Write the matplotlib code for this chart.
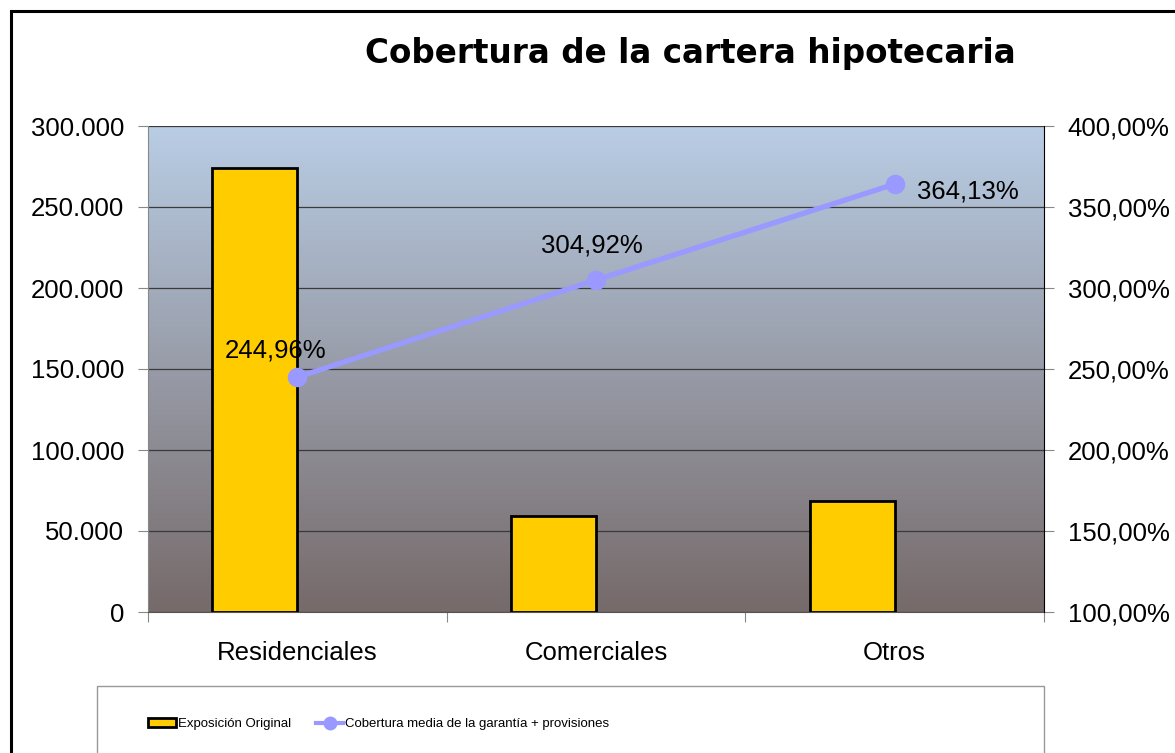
import numpy as np
import matplotlib
matplotlib.use("Agg")
import matplotlib.pyplot as plt
from matplotlib.patches import Rectangle
from matplotlib.lines import Line2D
from matplotlib.ticker import FuncFormatter, FixedLocator

# data
categorias = ["Residenciales", "Comerciales", "Otros"]
exposicion = [274000, 59500, 68300]
cobertura = [2.4496, 3.0492, 3.6413]
etiquetas = ["244,96%", "304,92%", "364,13%"]

fig = plt.figure(figsize=(11.75, 7.53), dpi=100)
fig.patch.set_facecolor("white")

# outer frame of the chart (runs off the right and bottom edge)
fig.patches.append(Rectangle((11 / 1175, -0.05), 1.2, 1 - 11 / 753 + 0.05,
                             transform=fig.transFigure, fill=False,
                             edgecolor="black", lw=2.2))

ax = fig.add_axes([148 / 1175, 1 - 612 / 753, (1044 - 148) / 1175, (612 - 126) / 753])

# gradient background
top = np.array([185, 205, 229]) / 255
bot = np.array([118, 106, 106]) / 255
t = np.linspace(0, 1, 256)[:, None]
grad = (top * (1 - t) + bot * t)[:, None, :]
ax.imshow(grad, extent=[0, 1, 0, 1], transform=ax.transAxes, aspect="auto", zorder=0)

x = np.arange(len(categorias))
w = 0.285
ax.bar(x - w / 2, exposicion, width=w, color="#FFCC00", edgecolor="black", lw=2, zorder=3)

ax.set_xlim(-0.5, 2.5)
ax.set_ylim(0, 300000)
ax.set_yticks(np.arange(0, 300001, 50000))
ax.yaxis.set_major_formatter(FuncFormatter(lambda v, p: f"{int(v):,}".replace(",", ".")))
ax.grid(axis="y", color="#3a3a3a", lw=0.9, zorder=1)
ax.set_axisbelow(True)

ax.xaxis.set_major_locator(FixedLocator([-0.5, 0.5, 1.5, 2.5]))
ax.xaxis.set_minor_locator(FixedLocator(x))
ax.set_xticklabels([], minor=False)
ax.set_xticklabels(categorias, minor=True)
ax.tick_params(axis="x", which="major", length=7, color="#888888", direction="out")
ax.tick_params(axis="x", which="minor", length=0, pad=21, labelsize=18.5)
ax.tick_params(axis="y", length=7, color="#888888", labelsize=18.5, pad=10)
for lab in ax.get_xticklabels(minor=True) + ax.get_yticklabels():
    lab.set_fontfamily("Liberation Sans")

ax.spines["top"].set_visible(False)
ax.spines["right"].set_visible(False)
ax.spines["left"].set_color("#888888")
ax.spines["bottom"].set_color("#555555")

ax2 = ax.twinx()
ax2.plot(x, cobertura, color="#9999FF", lw=3.8, marker="o", markersize=13, zorder=5)
ax2.set_ylim(1.0, 4.0)
ax2.set_yticks(np.arange(1.0, 4.01, 0.5))
ax2.yaxis.set_major_formatter(FuncFormatter(lambda v, p: f"{v * 100:.2f}%".replace(".", ",")))
ax2.tick_params(axis="y", length=7, color="#888888", labelsize=18.5, pad=10)
for lab in ax2.get_yticklabels():
    lab.set_fontfamily("Liberation Sans")
for s in ["top", "left", "bottom"]:
    ax2.spines[s].set_visible(False)
ax2.spines["right"].set_color("black")

offs = [(-16, 19, "center"), (-3, 25, "center"), (16, -5, "left")]
for xi, yi, txt, (dx, dy, ha) in zip(x, cobertura, etiquetas, offs):
    ax2.annotate(txt, (xi, yi), xytext=(dx, dy), textcoords="offset points",
                 ha=ha, va="center", fontsize=18.5, family="Liberation Sans", zorder=6)

fig.text(690 / 1175, 1 - 54 / 753, "Cobertura de la cartera hipotecaria",
         ha="center", va="center", fontsize=23.5, fontweight="bold", family="DejaVu Sans")

# legend box (cut at bottom)
fig.patches.append(Rectangle((97 / 1175, -0.05), (1044 - 97) / 1175, 0.05 + 1 - 686 / 753,
                             transform=fig.transFigure, fill=False,
                             edgecolor="#999999", lw=1))
handles = [Rectangle((0, 0), 1, 1, facecolor="#FFCC00", edgecolor="black", lw=2),
           Line2D([], [], color="#9999FF", lw=3, marker="o", markersize=9)]
leg = fig.legend(handles, ["Exposición Original", "Cobertura media de la garantía + provisiones"],
                 loc="center left", bbox_to_anchor=(136 / 1175, 1 - 724 / 753), ncol=2,
                 frameon=False, handlelength=2.1, handleheight=0.6, handletextpad=0.15,
                 columnspacing=1.9, prop={"family": "Liberation Sans", "size": 9.5})

fig.savefig("out.png", dpi=100)
